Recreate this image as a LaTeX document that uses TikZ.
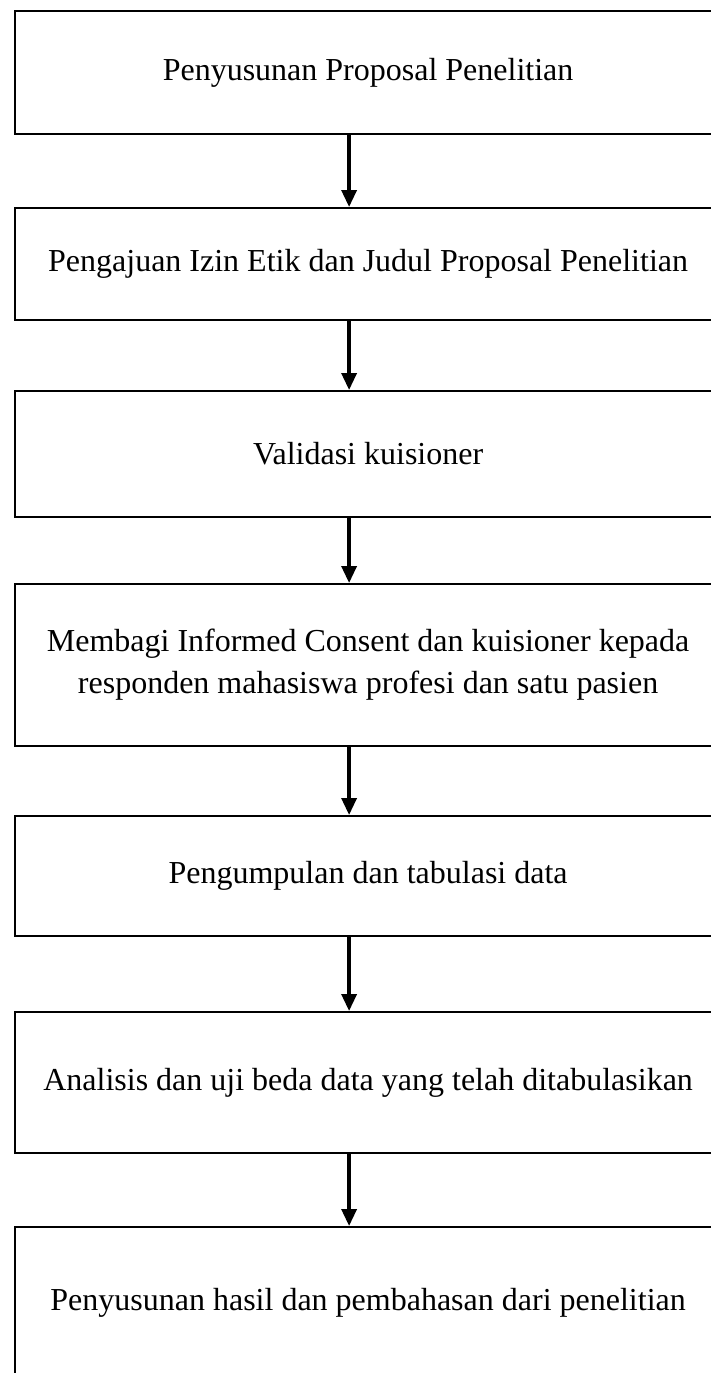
\documentclass[tikz,border=0pt]{standalone}
\usepackage{fontspec}
\setmainfont{Liberation Serif}
\usetikzlibrary{arrows.meta, positioning}

\tikzset{
  stepbox/.style={draw, line width=2.2pt, rectangle, anchor=north west,
    minimum width=706pt, inner sep=0pt, align=center,
    font=\fontsize{32}{42}\selectfont},
  flow/.style={-{Triangle[width=15pt,length=17pt]}, line width=3.4pt}
}

\begin{document}
\begin{tikzpicture}[x=1pt, y=-1pt]
  \useasboundingbox (0,0) rectangle (711,1373);
  \clip (0,0) rectangle (711,1373);
  \fill[white] (0,0) rectangle (711,1373);

  \node[stepbox, minimum height=123pt] (s1) at (14,10) {Penyusunan Proposal Penelitian};
  \node[stepbox, minimum height=112pt] (s2) at (14,207) {Pengajuan Izin Etik dan Judul Proposal Penelitian};
  \node[stepbox, minimum height=126pt] (s3) at (14,390) {Validasi kuisioner};
  \node[stepbox, minimum height=162pt] (s4) at (14,583) {Membagi Informed Consent dan kuisioner kepada\\responden mahasiswa profesi dan satu pasien};
  \node[stepbox, minimum height=120pt] (s5) at (14,815) {Pengumpulan dan tabulasi data};
  \node[stepbox, minimum height=141pt] (s6) at (14,1011) {Analisis dan uji beda data yang telah ditabulasikan};
  \node[stepbox, minimum height=152pt] (s7) at (14,1226) {Penyusunan hasil dan pembahasan dari penelitian};

  % arrows between the steps
  \foreach \a/\b in {s1/s2, s2/s3, s3/s4, s4/s5, s5/s6, s6/s7}
    \draw[flow] ([xshift=-19pt]\a.south) -- ([xshift=-19pt]\b.north);
\end{tikzpicture}
\end{document}
